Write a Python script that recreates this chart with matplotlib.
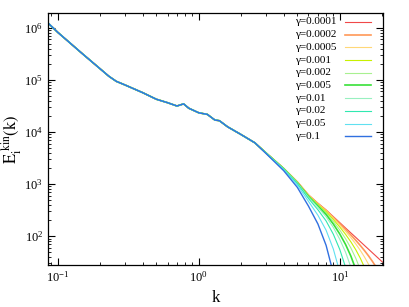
import matplotlib
matplotlib.use("Agg")
import matplotlib.pyplot as plt
import numpy as np

plt.rcParams['font.family'] = ['Liberation Serif', 'DejaVu Serif']
plt.rcParams['mathtext.fontset'] = 'stix'

# shared low-k part of the spectrum (all curves overlap here)
k_base = [0.085, 0.1, 0.15, 0.2, 0.23, 0.26, 0.3, 0.4, 0.5, 0.6, 0.7, 0.78, 0.85,
          1.0, 1.15, 1.3, 1.4, 1.6, 2.0, 2.5]
E_base = [1.25e6, 8.2e5, 3.16e5, 1.63e5, 1.18e5, 9.4e4, 8.0e4, 5.7e4, 4.26e4, 3.66e4,
          3.16e4, 3.47e4, 2.86e4, 2.34e4, 2.18e4, 1.7e4, 1.65e4, 1.26e4,
          8.9e3, 6.2e3]

# high-k tails, one per gamma, read at k = 3, 4, 5, ...
k_tail = [3, 4, 5, 6, 7, 8, 9, 10, 11, 12, 13, 14, 15, 16, 17, 18, 19, 20]
gammas = ["0.0001", "0.0002", "0.0005", "0.001", "0.002",
          "0.005", "0.01", "0.02", "0.05", "0.1"]
tails = [
    [3980, 2000, 1100, 617, 427, 318, 237, 182, 143, 115, 94.4, 78.3, 65.9, 56.1, 48.2, 41.8, 36.5, 32.1],
    [3980, 2000, 1100, 615, 424, 313, 230, 173, 134, 105, 83, 65.9, 52.5, 41.8, 33.1, 26.1],
    [3980, 2000, 1095, 608, 416, 306, 222, 164, 123, 93.3, 70.6, 53, 39.4, 28.8, 20.6],
    [3980, 1990, 1080, 601, 407, 295, 209, 150, 108, 77.4, 54.6, 37.5, 24.9],
    [3970, 1980, 1070, 592, 394, 279, 192, 131, 89, 58.9, 37.4, 22.6],
    [3960, 1970, 1060, 578, 378, 260, 171, 110, 69, 41.1, 22.8],
    [3950, 1960, 1050, 561, 358, 236, 147, 87, 48.9, 25.2],
    [3940, 1940, 1020, 528, 321, 196, 109, 55.5, 25.2],
    [3910, 1890, 957, 465, 252, 130, 56.6, 20.5],
    [3860, 1810, 865, 377, 171, 66.5, 19.4],
]
colors = ["#f04848", "#ff9858", "#ffd878", "#c8f000", "#a8f090",
          "#38e038", "#98f0c0", "#30e8b0", "#60e0f0", "#3070e0"]
widths = [0.8, 1.2, 0.8, 0.8, 0.8, 1.2, 0.8, 0.8, 0.8, 1.0]

fig = plt.figure(figsize=(4.09, 3.07), dpi=100)
ax = fig.add_axes([0.117, 0.137, 0.819, 0.821])

for i, g in enumerate(gammas):
    kk = k_base + k_tail[:len(tails[i])]
    ee = E_base + tails[i]
    ax.plot(kk, ee, color=colors[i], lw=widths[i])

ax.set_xscale('log')
ax.set_yscale('log')
ax.set_xlim(0.085, 20.2)
ax.set_ylim(28, 1.94e6)

ax.tick_params(which='both', direction='in', top=True, right=True, labelsize=9)
ax.tick_params(which='major', length=5, width=0.8)
ax.tick_params(which='minor', length=2.5, width=0.6)
for s in ax.spines.values():
    s.set_linewidth(0.9)

ax.set_xlabel('k', fontsize=12, labelpad=4)
ax.set_ylabel(r'$\mathrm{E}_{\mathrm{i}}^{\mathrm{\ kin}}\mathrm{(k)}$', fontsize=12)
ax.yaxis.set_label_coords(-0.07, 0.5)

# legend drawn gnuplot-style: text on the left, sample line on the right
for i, g in enumerate(gammas):
    y = 0.964 - i * 0.0504
    ax.text(0.737, y, "\u03b3=" + g, transform=ax.transAxes,
            fontsize=8, va='center', ha='left')
    ax.plot([0.887, 0.964], [y, y], transform=ax.transAxes,
            color=colors[i], lw=widths[i], clip_on=False)

fig.savefig("out.png", dpi=100)
